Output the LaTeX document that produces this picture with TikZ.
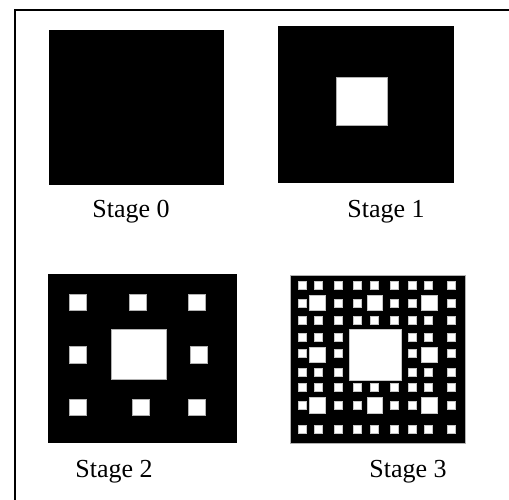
\documentclass[tikz,border=0pt]{standalone}
\usepackage{fontspec}
\setmainfont{Liberation Serif}
\begin{document}
\begin{tikzpicture}[x=1pt,y=-1pt,
  hole/.style={fill=white,draw=gray!60,line width=0.5pt},
  hole3/.style={fill=white,draw=gray!45,line width=0.9pt},
  lbl/.style={anchor=base,inner sep=0pt,font=\fontsize{26}{30}\selectfont}]
\useasboundingbox (0,0) rectangle (509,500);
% frame
\draw[line width=2.6pt] (15,500) -- (15,10) -- (509,10);
% Stage 0
\fill[black] (49,30) rectangle (224,185);
\node[lbl] (s0) at (131,218) {Stage 0};
% Stage 1
\fill[black] (278,26) rectangle (454,183);
\draw[hole] (336,77) rectangle (387,125);
\node[lbl] (s1) at (386,218) {Stage 1};
% Stage 2
\fill[black] (48,274) rectangle (237,443);
\draw[hole] (69,294.5) rectangle (86,310.5);
\draw[hole] (129,294.5) rectangle (146,310.5);
\draw[hole] (188.5,294.5) rectangle (205,310.5);
\draw[hole] (69,346.5) rectangle (86,363);
\draw[hole] (190,346.5) rectangle (207,363);
\draw[hole] (111,329) rectangle (166,379);
\draw[hole] (69,399) rectangle (86,415);
\draw[hole] (132.5,399) rectangle (149,415);
\draw[hole] (188.5,399) rectangle (205,415);
\node[lbl] (s2) at (114,477) {Stage 2};
% Stage 3
\fill[black,draw=gray!60,line width=1pt] (290,275) rectangle (465,443);
\foreach \cy in {285.5,320.5,387,429}{
  \foreach \cx in {302,318.5,338.5,357,374.5,394.5,412,428,451}{
    \draw[hole3] (\cx-4,\cy-4) rectangle (\cx+4,\cy+4);
  }
}
\foreach \cy in {303.5,405}{
  \foreach \cx in {302,338.5,357,394.5,412,451}{
    \draw[hole3] (\cx-4,\cy-4) rectangle (\cx+4,\cy+4);
  }
}
\foreach \cy in {337,372.5}{
  \foreach \cx in {302,318.5,338.5,412,428,451}{
    \draw[hole3] (\cx-4,\cy-4) rectangle (\cx+4,\cy+4);
  }
}
\foreach \cx in {302,338.5,412,451}{
  \draw[hole3] (\cx-4,353.5-4) rectangle (\cx+4,353.5+4);
}
\foreach \cy in {303,405.5}{
  \foreach \cx in {317.5,375,429.5}{
    \draw[hole3] (\cx-7.8,\cy-7.8) rectangle (\cx+7.8,\cy+7.8);
  }
}
\foreach \cx in {317.5,429.5}{
  \draw[hole3] (\cx-7.8,355-7.8) rectangle (\cx+7.8,355+7.8);
}
\draw[hole3] (349,329) rectangle (401,380);
\node[lbl] (s3) at (408,477) {Stage 3};
\end{tikzpicture}
\end{document}
